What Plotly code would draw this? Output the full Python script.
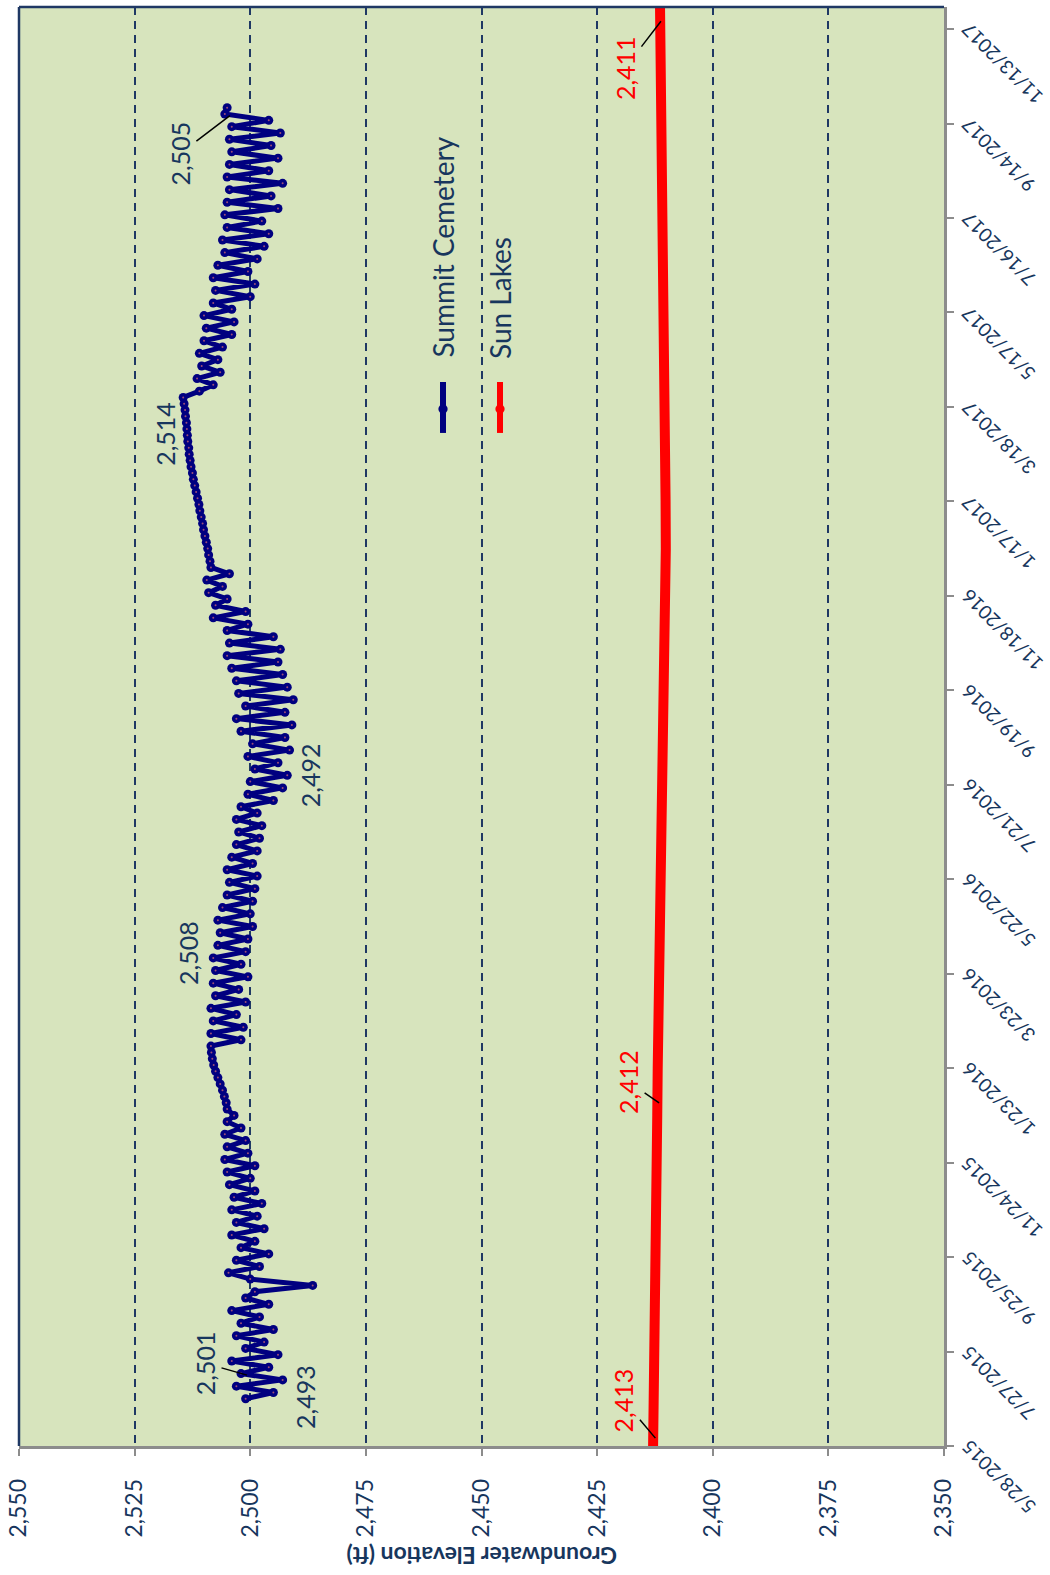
import plotly.graph_objects as go
import pandas as pd

# ---------------- data ----------------
elev_ticks = [2350, 2375, 2400, 2425, 2450, 2475, 2500, 2525, 2550]
date_tick_start = "2015-05-28"
date_tick_step_days = 60
date_tick_count = 16
date_range = ["2015-05-28", "2017-11-27"]

summit_start = "2015-06-27"
summit_step_days = 4
summit_values = [
    # Jun - Sep 2015
    2501, 2495, 2503, 2493, 2502, 2496, 2504, 2494, 2501, 2497,
    2503, 2495, 2502, 2498, 2504, 2496, 2501, 2499,
    2486.5,
    2500, 2504.7, 2498, 2503, 2496, 2502, 2499, 2504, 2497, 2503,
    2498.5, 2504, 2497.5, 2503.5, 2499, 2504.5,
    2500, 2505, 2499, 2505.5, 2500.5, 2505, 2501, 2505.5, 2502, 2505,
    2503.5, 2505,
    # early 2016 smooth rise
    2505.2, 2505.6, 2506.0, 2506.5, 2507.0, 2507.5, 2507.9, 2508.2, 2508.4, 2508.5,
    2502, 2508.5, 2501.5, 2508, 2503, 2508.5, 2501, 2507.5, 2502.5, 2508,
    2500.5, 2507.5, 2502, 2508, 2501, 2507, 2500.5, 2506.5,
    2499.5, 2507, 2500, 2506, 2499.5,
    2505, 2499, 2504.5, 2498.5, 2505, 2499.5, 2504, 2498.5,
    2503, 2498, 2502.5, 2497.5, 2503, 2498.5, 2502,
    # summer 2016
    2495, 2500.5, 2493, 2500, 2492, 2499, 2494, 2500.5, 2491.5, 2499.5,
    2492.5,
    2502, 2491, 2503, 2492.5, 2501, 2490.7, 2502.5, 2492, 2503,
    2493, 2504, 2494, 2505, 2493.5, 2504.5, 2495, 2505,
    2500.5, 2508, 2501, 2507.5,
    2505, 2509, 2506, 2509.4, 2504.5, 2508.5,
    # winter 2016-17 smooth rise
    2508.7, 2509.0, 2509.2, 2509.5, 2509.8, 2510.1, 2510.3, 2510.6, 2510.9, 2511.1,
    2511.4, 2511.7, 2512.0, 2512.3, 2512.5, 2512.8, 2513.0, 2513.2, 2513.3, 2513.5,
    2513.6, 2513.7, 2513.8, 2514.0, 2514.1, 2514.3, 2514.5,
    # spring - autumn 2017
    2511, 2508, 2511.5, 2506.5, 2510.5, 2507, 2511, 2506,
    2510, 2504, 2509.5, 2503.5, 2510, 2504,
    2508, 2500, 2507.5, 2499, 2508, 2500.5, 2507, 2498.5,
    2505.5, 2497, 2506, 2496, 2505, 2497.5, 2505.5,
    2494, 2505, 2495.5, 2504.5, 2493, 2505, 2496,
    2504.5, 2494, 2504, 2495.5, 2504.5, 2493.5, 2504, 2496,
    2505.5, 2505,
]

sun_dates = [
    "2015-05-28", "2015-06-27", "2015-07-27", "2015-08-26", "2015-09-25",
    "2015-10-25", "2015-11-24", "2015-12-24", "2016-01-23", "2016-02-22",
    "2016-03-23", "2016-04-22", "2016-05-22", "2016-06-21", "2016-07-21",
    "2016-08-20", "2016-09-19", "2016-10-19", "2016-11-18", "2016-12-18",
    "2017-01-17", "2017-02-16", "2017-03-18", "2017-04-17", "2017-05-17",
    "2017-06-16", "2017-07-16", "2017-08-15", "2017-09-14", "2017-10-14",
    "2017-11-13", "2017-11-27",
]
sun_values = [
    2412.9, 2412.7, 2412.6, 2412.5, 2412.4, 2412.3, 2412.2, 2412.0, 2411.9, 2411.7,
    2411.5, 2411.3, 2411.1, 2410.9, 2410.75, 2410.6, 2410.45, 2410.3, 2410.2, 2410.15,
    2410.2, 2410.3, 2410.45, 2410.6, 2410.75, 2410.9, 2411.05, 2411.15, 2411.25, 2411.3,
    2411.35, 2411.4,
]

# value labels with leader lines: (text, elevation, date, dx px, dy px, colour)
arrow_labels = [
    ("2,501", 2500.7, "2015-07-12", -42, -12, "#17365D"),
    ("2,505", 2504.4, "2017-09-19", -50, 38, "#17365D"),
    ("2,413", 2412.4, "2015-06-02", -32, -38, "#FF0000"),
    ("2,412", 2411.6, "2016-01-01", -31, -21, "#FF0000"),
    ("2,411", 2411.2, "2017-11-18", -36, 47, "#FF0000"),
]
# plain value labels: (text, elevation, date, colour)
plain_labels = [
    ("2,493", 2488.2, "2015-06-28", "#17365D"),
    ("2,508", 2513.5, "2016-04-05", "#17365D"),
    ("2,492", 2487.1, "2016-07-27", "#17365D"),
    ("2,514", 2518.4, "2017-03-01", "#17365D"),
]

series_names = ["Summit Cemetery", "Sun Lakes"]
series_colors = ["#000080", "#FF0000"]

# ---------------- build ----------------
summit_dates = pd.date_range(summit_start, periods=len(summit_values),
                             freq=f"{summit_step_days}D")
tick_dates = pd.date_range(date_tick_start, periods=date_tick_count,
                           freq=f"{date_tick_step_days}D")
tick_text = [f"{d.month}/{d.day}/{d.year}" for d in tick_dates]

FONT = "Lato, Carlito, Calibri, sans-serif"
TXT = "#17365D"
NAVY_GRID = "#1F3864"

fig = go.Figure()
fig.add_trace(go.Scatter(
    x=sun_values, y=sun_dates, mode="lines", name=series_names[1],
    line=dict(color=series_colors[1], width=10), showlegend=False))
fig.add_trace(go.Scatter(
    x=summit_values, y=summit_dates, mode="lines+markers", name=series_names[0],
    line=dict(color=series_colors[0], width=5),
    marker=dict(color=series_colors[0], size=9, symbol="circle"),
    showlegend=False))
# tiny pinkish centre dots of the Summit Cemetery markers
fig.add_trace(go.Scatter(
    x=summit_values, y=summit_dates, mode="markers", hoverinfo="skip",
    marker=dict(color="#9C4F78", size=2), showlegend=False))

annotations = []
for t, ev, d, dx, dy, c in arrow_labels:
    annotations.append(dict(
        x=ev, y=d, xref="x", yref="y", text=t, textangle=-90,
        showarrow=True, arrowhead=0, arrowwidth=1.5, arrowcolor="black",
        ax=dx, ay=dy, font=dict(family=FONT, size=25, color=c)))
for t, ev, d, c in plain_labels:
    annotations.append(dict(
        x=ev, y=d, xref="x", yref="y", text=t, textangle=-90, showarrow=False,
        font=dict(family=FONT, size=25, color=c)))

# rotated date tick labels (end of text sits at the tick)
DATE_FS = 19
for d, t in zip(tick_dates, tick_text):
    n_dig = sum(ch.isdigit() for ch in t)
    n_sl = t.count("/")
    L = DATE_FS * (0.58 * n_dig + 0.37 * n_sl)
    dx = 22 + 0.354 * L
    dy = -1 + 0.354 * L
    annotations.append(dict(
        x=1, y=d, xref="paper", yref="y", text=t, textangle=-135,
        showarrow=False, xanchor="center", yanchor="middle",
        xshift=dx, yshift=-dy,
        font=dict(family=FONT, size=DATE_FS, color=TXT)))

# legend (rotated)
leg_x = [0.4584, 0.52]
leg_text_y = [0.8328, 0.7978]
shapes = []
for i in range(2):
    annotations.append(dict(
        x=leg_x[i], y=leg_text_y[i], xref="paper", yref="paper",
        text=series_names[i], textangle=-90, showarrow=False,
        xanchor="center", yanchor="middle",
        font=dict(family=FONT, size=28, color=TXT)))
    shapes.append(dict(type="line", xref="paper", yref="paper",
                       x0=leg_x[i], x1=leg_x[i], y0=0.704, y1=0.7394,
                       line=dict(color=series_colors[i], width=6)))
    shapes.append(dict(type="circle", xref="paper", yref="paper",
                       x0=leg_x[i] - 0.005, x1=leg_x[i] + 0.005,
                       y0=0.7206 - 0.0032, y1=0.7206 + 0.0032,
                       fillcolor=series_colors[i], line=dict(width=0)))

# axis title (upside down)
annotations.append(dict(
    x=0.5, y=-0.0764, xref="paper", yref="paper",
    text="<b>Groundwater Elevation (ft)</b>", textangle=180, showarrow=False,
    xanchor="center", yanchor="middle",
    font=dict(family=FONT, size=23, color=TXT)))

# plot border: top and left in navy
shapes.append(dict(type="line", xref="paper", yref="paper", x0=0, x1=1, y0=1, y1=1,
                   line=dict(color=NAVY_GRID, width=2.5), layer="above"))
shapes.append(dict(type="line", xref="paper", yref="paper", x0=0, x1=0, y0=0, y1=1,
                   line=dict(color=NAVY_GRID, width=2.5), layer="above"))

fig.update_layout(
    width=1050, height=1575,
    margin=dict(l=19, r=106, t=7, b=129, autoexpand=False),
    paper_bgcolor="white", plot_bgcolor="#D7E4BD",
    annotations=annotations, shapes=shapes, showlegend=False,
)
fig.update_xaxes(
    range=[2550, 2350], tickvals=elev_ticks,
    ticktext=[f"{v:,}" for v in elev_ticks], tickangle=-90,
    ticks="outside", ticklen=7, tickwidth=2, tickcolor="#8C8C8C",
    showline=True, linecolor="#8C8C8C", linewidth=2.5,
    showgrid=True, gridcolor=NAVY_GRID, gridwidth=2, griddash="8px,6px",
    zeroline=False, ticklabelstandoff=14,
    tickfont=dict(family=FONT, size=23, color=TXT),
)
fig.update_yaxes(
    type="date", range=date_range, side="right",
    tickvals=list(tick_dates), showticklabels=False,
    ticks="outside", ticklen=7, tickwidth=2, tickcolor="#8C8C8C",
    showline=True, linecolor="#8C8C8C", linewidth=2.5,
    showgrid=False, zeroline=False,
)

fig.write_html("out.html", config={"displayModeBar": False},
               post_script="document.body.style.margin='0';")
